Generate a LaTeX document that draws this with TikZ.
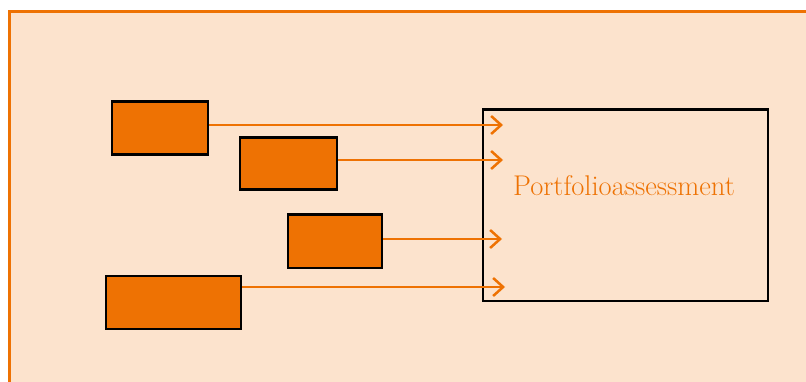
\documentclass[tikz,border=0pt]{standalone}
\usetikzlibrary{arrows.meta}
\definecolor{peach}{HTML}{FCE3CD}
\definecolor{accent}{HTML}{EE7203}
\begin{document}
\begin{tikzpicture}[x=1pt,y=-1pt,
  srcbox/.style={draw=black,line width=2.5pt,fill=accent,inner sep=0pt,anchor=north west},
  feed/.style={draw=accent,line width=2.5pt,-{Straight Barb[length=10pt,width=18pt,line width=2.5pt]}}]
  \useasboundingbox (0,0) rectangle (806,382);
  % framed background
  \fill[white] (0,0) rectangle (806,382);
  \draw[draw=accent,fill=peach,line width=3pt] (9.5,12) rectangle (830,400);
  % source blocks
  \node[srcbox,minimum width=96pt,minimum height=53pt] (b1) at (110.5,100.5) {};
  \node[srcbox,minimum width=97pt,minimum height=52pt] (b2) at (238.5,136.5) {};
  \node[srcbox,minimum width=94pt,minimum height=53pt] (b3) at (286.5,213.5) {};
  \node[srcbox,minimum width=135pt,minimum height=53pt] (b4) at (104.5,274.5) {};
  % target block
  \node[draw=black,line width=2.5pt,inner sep=0pt,anchor=north west,
        minimum width=285pt,minimum height=191pt] (t) at (481.5,108.5) {};
  \node[text=accent,font=\fontsize{28.5}{34}\selectfont] (lbl) at (624,186) {Portfolioassessment};
  % arrow end points inside the target
  \coordinate (e1) at (503,125);
  \coordinate (e2) at (503,160);
  \coordinate (e3) at (502,239);
  \coordinate (e4) at (505,287);
  \draw[feed] (b1.east |- e1) -- (e1);
  \draw[feed] (b2.east |- e2) -- (e2);
  \draw[feed] (b3.east |- e3) -- (e3);
  \draw[feed] (b4.east |- e4) -- (e4);
\end{tikzpicture}
\end{document}
